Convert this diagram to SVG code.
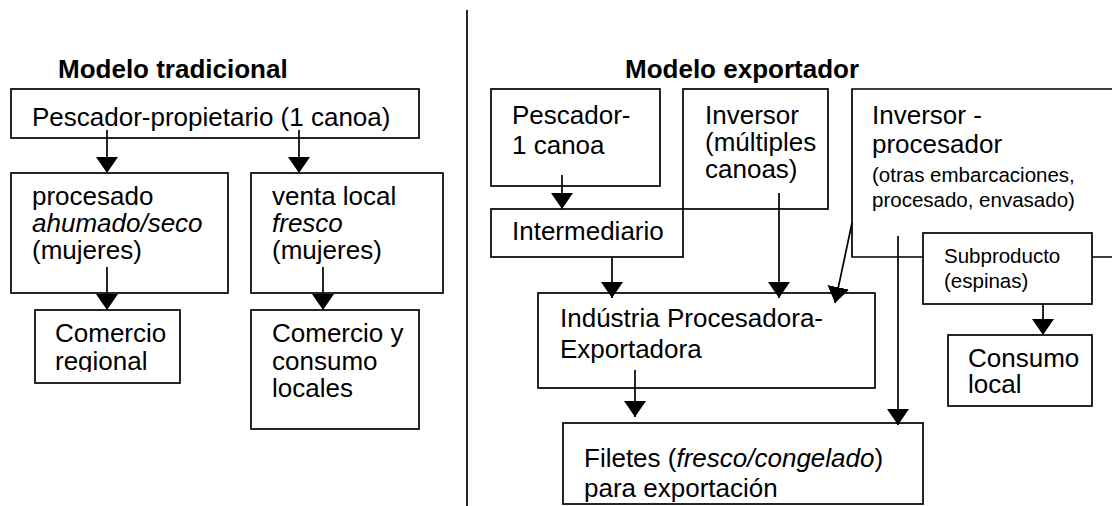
<svg xmlns="http://www.w3.org/2000/svg" width="1112" height="506" viewBox="0 0 1112 506">
<style>
text{font-family:"Liberation Sans",Arial,sans-serif;font-size:26px;fill:#000}
.t{font-weight:bold}
.s{font-size:20.5px}
.box{fill:#fff;stroke:#000;stroke-width:1.7}
.ln{fill:none;stroke:#000;stroke-width:1.7}
.ar{fill:none;stroke:#000;stroke-width:1.7;marker-end:url(#ah)}
</style>
<defs>
<marker id="ah" markerUnits="userSpaceOnUse" markerWidth="17" markerHeight="22" refX="16" refY="11" orient="auto" viewBox="0 0 17 22">
<path d="M0,0 L16,11 L0,22 z" fill="#000"/>
</marker>
<clipPath id="clipReg"><rect x="36" y="311" width="143" height="61"/></clipPath>
</defs>
<rect width="1112" height="506" fill="#fff"/>
<line class="ln" x1="467" y1="10" x2="467" y2="506"/>
<text class="t" x="58" y="78">Modelo tradicional</text>
<text class="t" x="625" y="78">Modelo exportador</text>

<g id="pescador-propietario"><rect class="box" x="11" y="89" width="408" height="49"/><text x="32" y="126">Pescador-propietario (1 canoa)</text></g>
<g id="procesado"><rect class="box" x="11" y="173" width="217" height="120"/><text x="32" y="205">procesado</text><text x="32" y="232" font-style="italic">ahumado/seco</text><text x="32" y="259">(mujeres)</text></g>
<g id="venta-local"><rect class="box" x="251" y="173" width="192" height="120"/><text x="272" y="205">venta local</text><text x="272" y="232" font-style="italic">fresco</text><text x="272" y="259">(mujeres)</text></g>
<g id="comercio-regional"><rect class="box" x="35" y="310" width="145" height="73"/><g clip-path="url(#clipReg)"><text x="55" y="342">Comercio</text><text x="55" y="370">regional</text></g></g>
<g id="comercio-consumo"><rect class="box" x="251" y="310" width="168" height="119"/><text x="272" y="342">Comercio y</text><text x="272" y="370">consumo</text><text x="272" y="397">locales</text></g>

<g id="inversor-procesador"><path class="box" d="M1114,89 H852 V257 H1114"/><text x="872" y="124">Inversor -</text><text x="872" y="153">procesador</text><text class="s" x="872" y="182">(otras embarcaciones,</text><text class="s" x="872" y="207">procesado, envasado)</text></g>
<g id="pescador-canoa"><rect class="box" x="491" y="89" width="169" height="97"/><text x="512" y="124">Pescador-</text><text x="512" y="154">1 canoa</text></g>
<g id="inversor"><rect class="box" x="683" y="89" width="145" height="120"/><text x="705" y="124">Inversor</text><text x="705" y="151">(múltiples</text><text x="705" y="178">canoas)</text></g>
<g id="intermediario"><rect class="box" x="491" y="209" width="192" height="48"/><text x="512" y="240">Intermediario</text></g>
<g id="subproducto"><rect class="box" x="923" y="233" width="169" height="71"/><text class="s" x="944" y="263">Subproducto</text><text class="s" x="944" y="288">(espinas)</text></g>
<g id="consumo-local"><rect class="box" x="948" y="335" width="144" height="71"/><text x="968" y="367">Consumo</text><text x="968" y="393">local</text></g>
<g id="industria"><rect class="box" x="538" y="293" width="337" height="95"/><text x="560" y="327">Indústria Procesadora-</text><text x="560" y="358">Exportadora</text></g>
<g id="filetes"><rect class="box" x="563" y="423" width="360" height="81"/><text x="584" y="467">Filetes (<tspan font-style="italic">fresco/congelado</tspan>)</text><text x="584" y="497">para exportación</text></g>

<g id="connectors">
<line class="ar" x1="107" y1="130" x2="107" y2="173"/>
<line class="ar" x1="299" y1="130" x2="299" y2="173"/>
<line class="ar" x1="107" y1="267" x2="107" y2="310"/>
<line class="ar" x1="323" y1="267" x2="323" y2="310"/>
<line class="ar" x1="562" y1="175" x2="562" y2="209"/>
<line class="ar" x1="612" y1="257" x2="612" y2="298"/>
<line class="ar" x1="779" y1="193" x2="779" y2="298"/>
<line class="ar" x1="852" y1="223" x2="835" y2="303"/>
<line class="ar" x1="898" y1="236" x2="898" y2="425"/>
<line class="ar" x1="1043" y1="304" x2="1043" y2="335"/>
<line class="ar" x1="635" y1="370" x2="635" y2="417"/>
</g>
</svg>
